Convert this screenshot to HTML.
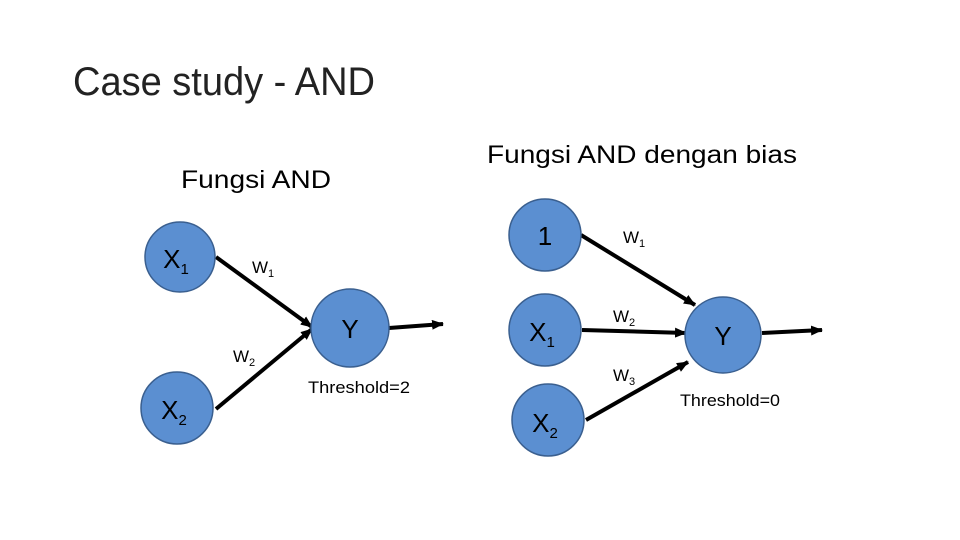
<!DOCTYPE html>
<html><head><style>html,body{margin:0;padding:0;background:#fff}svg{display:block}</style></head>
<body>
<svg width="960" height="540" viewBox="0 0 960 540" xmlns="http://www.w3.org/2000/svg" font-family="Liberation Sans, sans-serif">
<defs>
<marker id="b" markerWidth="12" markerHeight="10" refX="11" refY="5" orient="auto" markerUnits="userSpaceOnUse" viewBox="0 0 12 10">
<path d="M0,0 L12,5 L0,10 z" fill="#000"/></marker>
</defs>
<text x="73" y="95" font-size="40" fill="#222" textLength="302" lengthAdjust="spacingAndGlyphs">Case study - AND</text>
<text x="181" y="188" font-size="25" textLength="150" lengthAdjust="spacingAndGlyphs">Fungsi AND</text>
<text x="487" y="163" font-size="25" textLength="310" lengthAdjust="spacingAndGlyphs">Fungsi AND dengan bias</text>

<g stroke="#000" stroke-width="4" fill="none">
<line x1="216" y1="257" x2="312" y2="327" marker-end="url(#b)"/>
<line x1="216" y1="409" x2="312" y2="329" marker-end="url(#b)"/>
<line x1="389" y1="328" x2="443" y2="324" marker-end="url(#b)"/>
<line x1="581" y1="235" x2="695" y2="305" marker-end="url(#b)"/>
<line x1="582" y1="330" x2="686" y2="333" marker-end="url(#b)"/>
<line x1="586" y1="420" x2="688" y2="362" marker-end="url(#b)"/>
<line x1="762" y1="333" x2="822" y2="330" marker-end="url(#b)"/>
</g>

<g fill="#5b8fd1" stroke="#3a5f8f" stroke-width="1.5">
<circle cx="180" cy="257" r="35"/>
<circle cx="177" cy="408" r="36"/>
<circle cx="350" cy="328" r="39"/>
<circle cx="545" cy="235" r="36"/>
<circle cx="545" cy="330" r="36"/>
<circle cx="548" cy="420" r="36"/>
<circle cx="723" cy="335" r="38"/>
</g>

<g font-size="26" fill="#000" text-anchor="middle">
<text x="176" y="268">X<tspan font-size="15" dy="6">1</tspan></text>
<text x="174" y="419">X<tspan font-size="15" dy="6">2</tspan></text>
<text x="350" y="338">Y</text>
<text x="545" y="245">1</text>
<text x="542" y="341">X<tspan font-size="15" dy="6">1</tspan></text>
<text x="545" y="432">X<tspan font-size="15" dy="6">2</tspan></text>
<text x="723" y="345">Y</text>
</g>
<g font-size="17" fill="#000">
<text x="252" y="273">W<tspan font-size="11" dy="4">1</tspan></text>
<text x="233" y="362">W<tspan font-size="11" dy="4">2</tspan></text>
<text x="623" y="243">W<tspan font-size="11" dy="4">1</tspan></text>
<text x="613" y="322">W<tspan font-size="11" dy="4">2</tspan></text>
<text x="613" y="381">W<tspan font-size="11" dy="4">3</tspan></text>
<text x="308" y="393" textLength="102" lengthAdjust="spacingAndGlyphs">Threshold=2</text>
<text x="680" y="406" textLength="100" lengthAdjust="spacingAndGlyphs">Threshold=0</text>
</g>
</svg>
</body></html>
